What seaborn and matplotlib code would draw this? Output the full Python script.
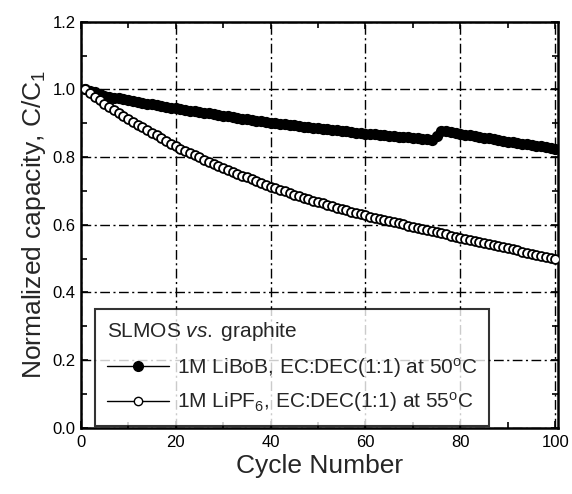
import matplotlib
matplotlib.use("Agg")
import matplotlib.pyplot as plt
from matplotlib.lines import Line2D
from matplotlib.ticker import MultipleLocator
import numpy as np
import pandas as pd
import seaborn as sns

# Cycle index and normalized capacity C/C1 for the two electrolytes
cycles = list(range(1, 101))

libob_50c = [
    1.000, 0.995, 0.991, 0.986, 0.982, 0.979, 0.976, 0.974, 0.971, 0.968,
    0.965, 0.963, 0.960, 0.958, 0.956, 0.953, 0.951, 0.949, 0.946, 0.944,
    0.942, 0.940, 0.937, 0.935, 0.933, 0.931, 0.929, 0.926, 0.924, 0.922,
    0.920, 0.918, 0.916, 0.914, 0.912, 0.910, 0.908, 0.906, 0.904, 0.902,
    0.900, 0.899, 0.897, 0.895, 0.894, 0.892, 0.890, 0.888, 0.887, 0.885,
    0.883, 0.882, 0.880, 0.879, 0.877, 0.876, 0.874, 0.872, 0.871, 0.869,
    0.868, 0.867, 0.865, 0.864, 0.863, 0.862, 0.860, 0.859, 0.858, 0.857,
    0.856, 0.854, 0.853, 0.851, 0.862, 0.877, 0.876, 0.873, 0.871, 0.868,
    0.866, 0.864, 0.862, 0.859, 0.857, 0.855, 0.853, 0.851, 0.848, 0.846,
    0.844, 0.842, 0.840, 0.838, 0.836, 0.834, 0.832, 0.830, 0.827, 0.825,
]

lipf6_55c = [
    1.000, 0.989, 0.979, 0.968, 0.958, 0.949, 0.940, 0.931, 0.922, 0.913,
    0.904, 0.896, 0.888, 0.880, 0.872, 0.864, 0.856, 0.848, 0.840, 0.832,
    0.825, 0.818, 0.812, 0.805, 0.799, 0.792, 0.786, 0.780, 0.774, 0.768,
    0.762, 0.756, 0.751, 0.745, 0.740, 0.734, 0.729, 0.723, 0.718, 0.713,
    0.708, 0.703, 0.699, 0.694, 0.689, 0.685, 0.680, 0.676, 0.671, 0.667,
    0.663, 0.659, 0.655, 0.651, 0.647, 0.643, 0.639, 0.635, 0.632, 0.628,
    0.624, 0.621, 0.618, 0.614, 0.611, 0.607, 0.604, 0.601, 0.597, 0.594,
    0.591, 0.588, 0.584, 0.581, 0.578, 0.575, 0.572, 0.568, 0.565, 0.562,
    0.559, 0.556, 0.553, 0.549, 0.546, 0.543, 0.540, 0.537, 0.533, 0.530,
    0.527, 0.524, 0.521, 0.518, 0.515, 0.512, 0.509, 0.506, 0.503, 0.500,
]

series_labels = [
    r"1M LiBoB, EC:DEC(1:1) at 50$^{\mathrm{o}}$C",
    r"1M LiPF$_{6}$, EC:DEC(1:1) at 55$^{\mathrm{o}}$C",
]
legend_title = r"SLMOS $\mathit{vs.}\;$graphite"
x_label = "Cycle Number"
y_label = r"Normalized capacity, C/C$_{1}$"
x_ticks = [0, 20, 40, 60, 80, 100]
y_ticks = [0.0, 0.2, 0.4, 0.6, 0.8, 1.0, 1.2]

sns.set_style("ticks")
plt.rcParams["font.family"] = ["Liberation Sans", "DejaVu Sans"]
plt.rcParams["mathtext.fontset"] = "custom"
plt.rcParams["mathtext.rm"] = "Liberation Sans"
plt.rcParams["mathtext.it"] = "Liberation Sans:italic"
plt.rcParams["mathtext.bf"] = "Liberation Sans:bold"

df = pd.DataFrame({
    "cycle": cycles * 2,
    "capacity": libob_50c + lipf6_55c,
    "series": [series_labels[0]] * len(cycles) + [series_labels[1]] * len(cycles),
})

fig = plt.figure(figsize=(5.72, 4.94), dpi=100)
ax = fig.add_axes([0.141, 0.134, 0.834, 0.822])

sns.lineplot(data=df[df["series"] == series_labels[0]], x="cycle", y="capacity",
             ax=ax, color="black", lw=1.0, marker="o", markersize=6.8,
             markerfacecolor="black", markeredgecolor="black", markeredgewidth=1.3,
             legend=False, zorder=3)
sns.lineplot(data=df[df["series"] == series_labels[1]], x="cycle", y="capacity",
             ax=ax, color="black", lw=1.0, marker="o", markersize=6.4,
             markerfacecolor="white", markeredgecolor="black", markeredgewidth=1.3,
             legend=False, zorder=4)

ax.set_xlim(0, 100.5)
ax.set_ylim(0.0, 1.2)
ax.set_xticks(x_ticks)
ax.set_yticks(y_ticks)
ax.set_xticklabels([str(t) for t in x_ticks])
ax.set_yticklabels([f"{t:.1f}" for t in y_ticks])
ax.xaxis.set_minor_locator(MultipleLocator(10))
ax.yaxis.set_minor_locator(MultipleLocator(0.1))
ax.tick_params(which="both", direction="in", top=True, right=True,
               labelsize=12, colors="black", width=1.2)
ax.tick_params(which="major", length=5)
ax.tick_params(which="minor", length=4)
ax.tick_params(axis="x", pad=5)

ax.grid(True, which="major", color="black", linestyle=(0, (7, 2.5, 1.5, 2.5)),
        linewidth=1.0)
ax.set_axisbelow(True)
for sp in ax.spines.values():
    sp.set_linewidth(1.8)
    sp.set_color("black")

ax.set_xlabel(x_label, fontsize=19, labelpad=3)
ax.set_ylabel(y_label, fontsize=19, labelpad=3)

handles = [
    Line2D([], [], color="black", lw=1.0, marker="o", markersize=7,
           markerfacecolor="black", markeredgecolor="black"),
    Line2D([], [], color="black", lw=1.0, marker="o", markersize=6,
           markerfacecolor="white", markeredgecolor="black"),
]
leg = ax.legend(handles, series_labels, title=legend_title, loc="lower left",
                bbox_to_anchor=(0.026, 0.0), fontsize=15, title_fontsize=15,
                frameon=True, fancybox=False, edgecolor="black",
                handlelength=3.0, handletextpad=0.4, borderpad=0.55,
                labelspacing=0.5, borderaxespad=0.1)
leg._legend_box.align = "left"
leg._legend_box.sep = 9
leg.get_frame().set_linewidth(1.5)
leg.set_zorder(10)

fig.savefig("out.png", dpi=100)
